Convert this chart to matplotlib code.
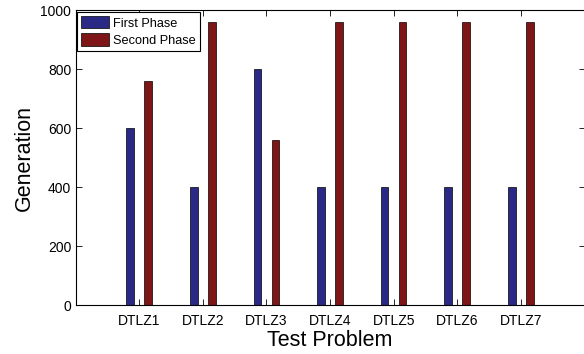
import numpy as np
import matplotlib
matplotlib.use("Agg")
import matplotlib.pyplot as plt

plt.rcParams['font.family'] = ['Liberation Sans', 'DejaVu Sans']

# data
problems = ['DTLZ1', 'DTLZ2', 'DTLZ3', 'DTLZ4', 'DTLZ5', 'DTLZ6', 'DTLZ7']
first_phase = [600, 400, 800, 400, 400, 400, 400]
second_phase = [760, 960, 560, 960, 960, 960, 960]

x = np.arange(1, len(problems) + 1)

fig = plt.figure(figsize=(5.84, 3.54), dpi=100)
ax = fig.add_axes([0.1293, 0.1376, 0.8716, 0.8333])

w = 0.12
off = 0.142
ax.bar(x - off, first_phase, w, color='#2a2a86', edgecolor='black', linewidth=0.5, label='First Phase')
ax.bar(x + off, second_phase, w, color='#7e1517', edgecolor='black', linewidth=0.5, label='Second Phase')

ax.set_xlim(0, 8)
ax.set_ylim(0, 1000)
ax.set_xticks(x)
ax.set_xticklabels(problems)
ax.set_yticks([0, 200, 400, 600, 800, 1000])
ax.tick_params(direction='in', top=True, right=True, labelsize=10, length=4, width=0.6)
ax.tick_params(axis='x', pad=6)
ax.tick_params(axis='y', pad=3)
for s in ax.spines.values():
    s.set_linewidth(0.8)

ax.set_xlabel('Test Problem', fontsize=15.5, labelpad=2)
ax.set_ylabel('Generation', fontsize=15.5, labelpad=4)

leg = ax.legend(loc='upper left', fontsize=9.2, handlelength=2.2, handleheight=1.1,
                borderaxespad=0.15, borderpad=0.3, labelspacing=0.3, handletextpad=0.3,
                fancybox=False, framealpha=1)
leg.get_frame().set_edgecolor('black')
leg.get_frame().set_linewidth(0.8)

plt.savefig('out.png', dpi=100)
